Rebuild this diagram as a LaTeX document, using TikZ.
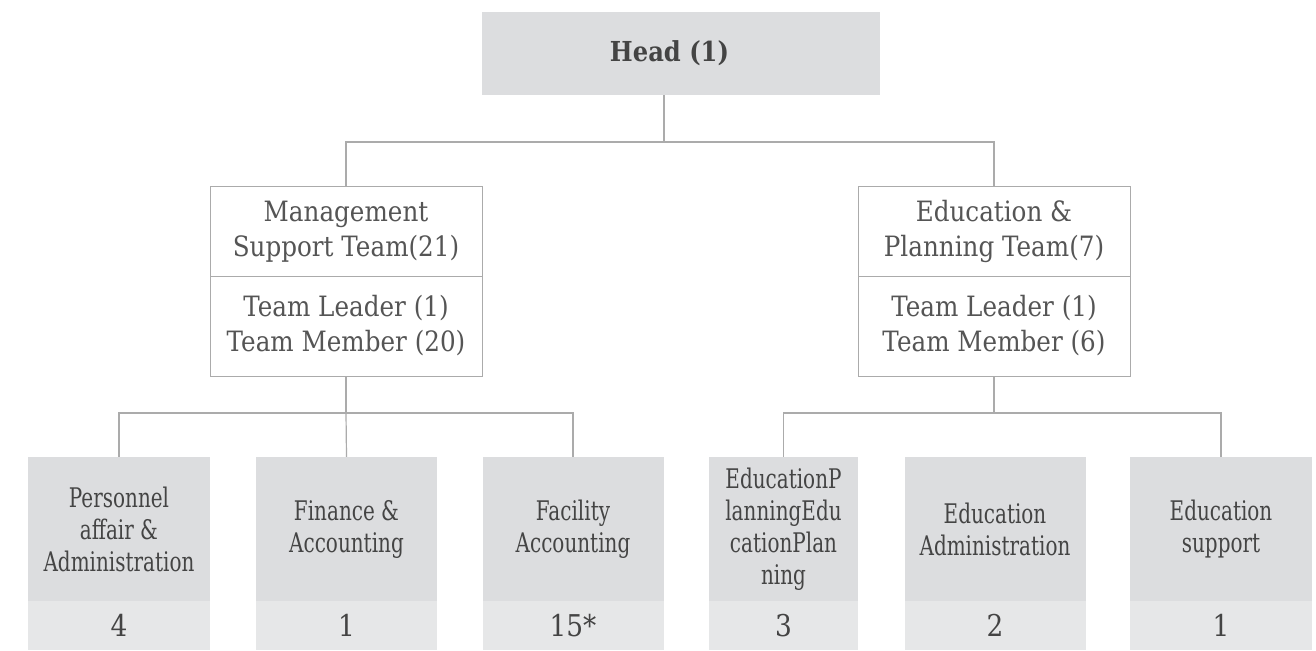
\documentclass[tikz,border=0pt]{standalone}
\usepackage{fontspec}
\setmainfont{DejaVu Serif}
\newfontfamily\teamfont[FakeStretch=0.88]{DejaVu Serif}
\newfontfamily\condfont[FakeStretch=0.74]{DejaVu Serif}
\definecolor{boxgray}{HTML}{DCDDDF}
\definecolor{numgray}{HTML}{E6E7E8}
\definecolor{linegray}{HTML}{ABABAB}
\definecolor{txtgray}{HTML}{555555}
\definecolor{headtxt}{HTML}{444444}
\begin{document}
\begin{tikzpicture}[x=1pt,y=-1pt,
  conn/.style={draw=linegray,line width=1.2pt},
  headbox/.style={fill=boxgray,draw=none,minimum width=398pt,minimum height=83pt,inner sep=0pt,
    font=\teamfont\fontsize{27.5}{32}\selectfont\bfseries,text=headtxt},
  teambox/.style={draw=linegray,line width=1pt,fill=white,minimum width=272pt,inner sep=0pt,align=center,
    font=\teamfont\fontsize{28}{35}\selectfont,text=txtgray},
  unitbox/.style={fill=boxgray,draw=none,minimum height=144pt,inner sep=0pt,align=center,
    font=\condfont\fontsize{27}{32}\selectfont,text=headtxt},
  numbox/.style={fill=numgray,draw=none,minimum height=49pt,inner sep=0pt,
    font=\teamfont\fontsize{30}{32}\selectfont,text=headtxt}
]
\useasboundingbox (0,0) rectangle (1316,650);

% head
\node[headbox] (head) at (681,53.5) {\hspace*{-23pt}Head (1)};

% teams
\node[teambox,minimum height=91pt] (mgmt) at (346,231.5) {Management\\Support Team(21)};
\node[teambox,minimum height=100pt] (mgmtm) at (346,326) {Team Leader (1)\\Team Member (20)};
\node[teambox,minimum height=91pt] (edu) at (994,231.5) {Education \&\\Planning Team(7)};
\node[teambox,minimum height=100pt] (edum) at (994,326) {Team Leader (1)\\Team Member (6)};

% units
\node[unitbox,minimum width=182pt] (u1) at (119,529) {Personnel\\affair \&\\Administration};
\node[unitbox,minimum width=181pt] (u2) at (346.5,529) {Finance \&\\Accounting};
\node[unitbox,minimum width=181pt] (u3) at (573,529) {Facility\\Accounting};
\node[unitbox,minimum width=149pt] (u4) at (783.5,529) {EducationP\\lanningEdu\\cationPlan\\ning};
\node[unitbox,minimum width=181pt] (u5) at (995,529) {Education\\Administration};
\node[unitbox,minimum width=182pt] (u6) at (1221,529) {Education\\support};

\node[numbox,minimum width=182pt] (n1) at (119,625.5) {4};
\node[numbox,minimum width=181pt] (n2) at (346.5,625.5) {1};
\node[numbox,minimum width=181pt] (n3) at (573,625.5) {15*};
\node[numbox,minimum width=149pt] (n4) at (783.5,625.5) {3};
\node[numbox,minimum width=181pt] (n5) at (995,625.5) {2};
\node[numbox,minimum width=182pt] (n6) at (1221,625.5) {1};

% connectors
\coordinate (hj) at (664,142);
\coordinate (mj) at (346,413);
\coordinate (ej) at (994,413);
\draw[conn] (head.south -| hj) -- (hj);
\draw[conn] (mgmt.north) |- (hj) -| (edu.north);
\draw[conn] (mgmtm.south) -- (mj);
\draw[conn] (u1.north) |- (mj) -| (u3.north);
\draw[conn] (mj) -- (u2.north);
\draw[conn] (edum.south) -- (ej);
\draw[conn] (u4.north) |- (ej) -| (u6.north);
\end{tikzpicture}
\end{document}
